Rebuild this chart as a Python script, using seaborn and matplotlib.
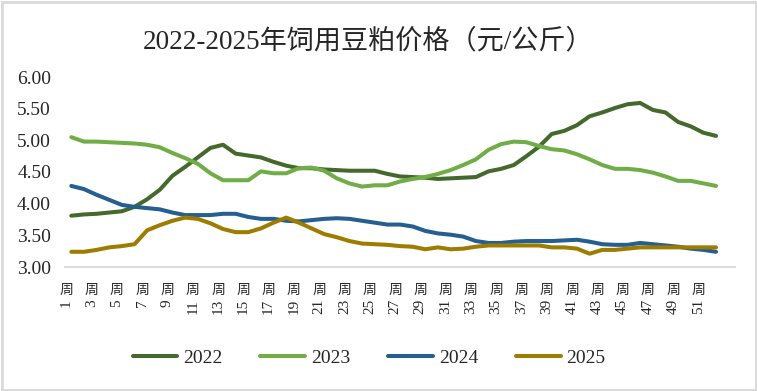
import numpy as np
import pandas as pd
import seaborn as sns
import matplotlib.pyplot as plt
from matplotlib.patches import Rectangle
from matplotlib.transforms import ScaledTranslation, blended_transform_factory

## data (yuan/kg, weekly)
weeks = list(range(1, 53))
p2022 = [3.81, 3.83, 3.84, 3.86, 3.88, 3.95, 4.07, 4.22, 4.44, 4.58,
         4.73, 4.88, 4.93, 4.79, 4.76, 4.73, 4.66, 4.60, 4.56, 4.56,
         4.54, 4.53, 4.52, 4.52, 4.52, 4.47, 4.43, 4.42, 4.41, 4.39,
         4.40, 4.41, 4.42, 4.51, 4.55, 4.61, 4.75, 4.90, 5.10, 5.15,
         5.24, 5.38, 5.44, 5.51, 5.57, 5.59, 5.48, 5.44, 5.29, 5.22,
         5.12, 5.07]
p2023 = [5.05, 4.98, 4.98, 4.97, 4.96, 4.95, 4.93, 4.89, 4.80, 4.72,
         4.63, 4.48, 4.37, 4.37, 4.37, 4.51, 4.48, 4.48, 4.56, 4.57,
         4.52, 4.40, 4.32, 4.27, 4.29, 4.29, 4.35, 4.39, 4.42, 4.47,
         4.53, 4.61, 4.70, 4.85, 4.94, 4.98, 4.97, 4.91, 4.86, 4.84,
         4.78, 4.70, 4.61, 4.55, 4.55, 4.53, 4.49, 4.43, 4.36, 4.36,
         4.32, 4.28]
p2024 = [4.28, 4.23, 4.14, 4.06, 3.98, 3.95, 3.93, 3.91, 3.86, 3.82,
         3.82, 3.82, 3.84, 3.84, 3.79, 3.76, 3.76, 3.73, 3.72, 3.74,
         3.76, 3.77, 3.76, 3.73, 3.70, 3.67, 3.67, 3.64, 3.57, 3.53,
         3.51, 3.48, 3.41, 3.38, 3.38, 3.40, 3.41, 3.41, 3.41, 3.42,
         3.43, 3.40, 3.36, 3.35, 3.35, 3.38, 3.36, 3.34, 3.32, 3.29,
         3.27, 3.24]
p2025 = [3.24, 3.24, 3.27, 3.31, 3.33, 3.36, 3.58, 3.66, 3.73, 3.78,
         3.76, 3.69, 3.60, 3.55, 3.55, 3.61, 3.70, 3.78, 3.70, 3.61,
         3.52, 3.47, 3.41, 3.37, 3.36, 3.35, 3.33, 3.32, 3.28, 3.31,
         3.28, 3.29, 3.32, 3.34, 3.34, 3.34, 3.34, 3.34, 3.31, 3.31,
         3.29, 3.21, 3.27, 3.27, 3.29, 3.31, 3.31, 3.31, 3.31, 3.31,
         3.31, 3.31]
years = ["2022", "2023", "2024", "2025"]
colors = ["#44692c", "#70ad47", "#255e91", "#9e7c00"]
xtick_weeks = list(range(1, 52, 2))
yticks = [3.0, 3.5, 4.0, 4.5, 5.0, 5.5, 6.0]

df = pd.DataFrame({
    "week": weeks * 4,
    "price": p2022 + p2023 + p2024 + p2025,
    "year": [y for y in years for _ in weeks],
})

sns.set_style("white")
plt.rcParams["font.family"] = ["Liberation Serif", "Noto Sans CJK SC"]
plt.rcParams["lines.solid_capstyle"] = "round"
plt.rcParams["lines.solid_joinstyle"] = "round"

W, H = 757, 391
fig = plt.figure(figsize=(W / 100, H / 100), dpi=100)
ax = fig.add_axes([65 / W, 1 - 267 / H, 670 / W, 190 / H])

sns.lineplot(data=df, x="week", y="price", hue="year", palette=colors,
             linewidth=2.9, ax=ax)

ax.set_xlim(0.5, 53.5)
ax.set_ylim(3, 6)
ax.set_yticks(yticks)
ax.set_yticklabels([f"{v:.2f}" for v in yticks], fontsize=14)
ax.set_xticks(xtick_weeks)
ax.set_xticklabels([str(w) for w in xtick_weeks], rotation=90, fontsize=11)
ax.tick_params(axis="y", length=0, pad=10)
ax.tick_params(axis="x", length=0, pad=23)
ax.set_xlabel("")
ax.set_ylabel("")
for s in ["left", "right", "top"]:
    ax.spines[s].set_visible(False)
ax.spines["bottom"].set_color("#d9d9d9")
ax.spines["bottom"].set_linewidth(1.3)
ax.grid(False)

# shift week labels a little left, like the original
shift = ScaledTranslation(-5 / 100, 0, fig.dpi_scale_trans)
for lab in ax.get_xticklabels():
    lab.set_transform(lab.get_transform() + shift)

# upright 周 above each rotated number
trans = blended_transform_factory(ax.transData, ax.transAxes) + shift
for w in xtick_weeks:
    ax.text(w, -23 / 190, "周", transform=trans, ha="center",
            va="center", fontsize=10, family=["Noto Sans CJK SC"])

# legend along the bottom
handles, labels = ax.get_legend_handles_labels()
ax.get_legend().remove()
leg = fig.legend(handles, labels, loc="center", bbox_to_anchor=(369 / W, 1 - 358 / H),
                 ncol=4, frameon=False, fontsize=14, handlelength=2.3,
                 handletextpad=0.3, columnspacing=1.95)
for h in leg.legend_handles:
    h.set_linewidth(2.9)

fig.text(368 / W, 1 - 42 / H, "2022-2025年饲用豆粕价格（元/公斤）", ha="center",
         va="center", fontsize=19.5)

fig.patches.append(Rectangle((1.5 / W, 1.5 / H), 1 - 3 / W, 1 - 3 / H,
                             transform=fig.transFigure, fill=False,
                             ec="#d9d9d9", lw=2))

fig.savefig("out.png", dpi=100)
